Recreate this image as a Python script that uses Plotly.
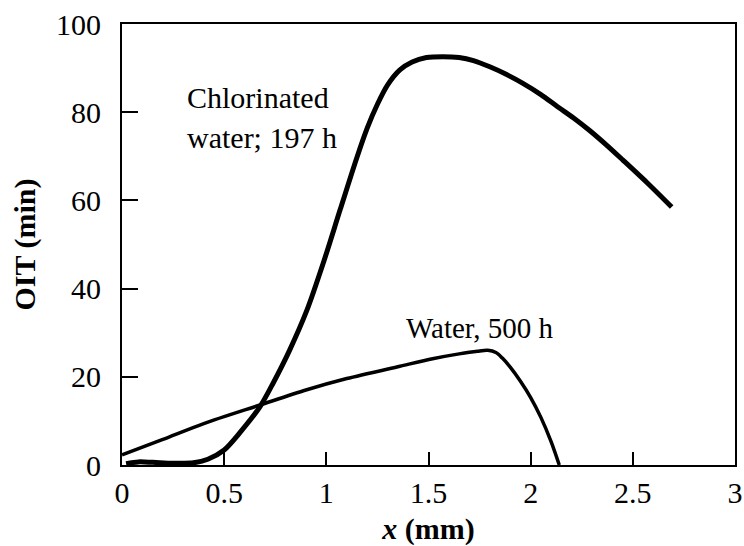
import plotly.graph_objects as go

# Chlorinated water, 197 h
chl_x = [0.02, 0.08, 0.15, 0.25, 0.35, 0.42, 0.5, 0.58, 0.675, 0.74, 0.82, 0.905, 0.985,
         1.067, 1.15, 1.2, 1.25, 1.3, 1.36, 1.42, 1.49, 1.57, 1.65, 1.72, 1.8, 1.88, 1.96,
         2.05, 2.13, 2.21, 2.29, 2.37, 2.45, 2.57, 2.69]
chl_y = [0.3, 0.7, 0.6, 0.4, 0.5, 1.3, 3.4, 7.5, 13.2, 18.6, 26.0, 35.1, 45.8,
         57.8, 69.8, 76.4, 81.8, 86.2, 89.6, 91.4, 92.4, 92.6, 92.4, 91.7, 90.3, 88.6, 86.6,
         84.0, 81.3, 78.7, 75.8, 72.6, 69.2, 64.0, 58.5]

# Water, 500 h
wat_x = [0.0, 0.2, 0.4, 0.675, 0.9, 1.1, 1.36, 1.52, 1.65, 1.74, 1.79, 1.83, 1.86, 1.90,
         1.95, 2.00, 2.05, 2.10, 2.14]
wat_y = [2.3, 5.8, 9.4, 13.6, 17.0, 19.6, 22.4, 24.1, 25.2, 25.8, 26.0, 25.5, 24.3, 22.2,
         19.0, 15.3, 10.8, 5.3, 0.0]

x_ticks = [0, 0.5, 1, 1.5, 2, 2.5, 3]
x_tick_labels = ["0", "0.5", "1", "1.5", "2", "2.5", "3"]
y_ticks = [0, 20, 40, 60, 80, 100]
y_tick_labels = ["0", "20", "40", "60", "80", "100"]

FONT = "Liberation Serif"

fig = go.Figure()
fig.add_trace(go.Scatter(x=chl_x, y=chl_y, mode="lines",
                         line=dict(color="black", width=5, shape="spline", smoothing=0.8),
                         showlegend=False, cliponaxis=False))
fig.add_trace(go.Scatter(x=wat_x, y=wat_y, mode="lines",
                         line=dict(color="black", width=3.5, shape="spline", smoothing=0.8),
                         showlegend=False, cliponaxis=False))

fig.add_annotation(x=0.31, y=83.3, text="Chlorinated", showarrow=False, xanchor="left", yanchor="middle",
                   font=dict(family=FONT, size=30, color="black"))
fig.add_annotation(x=0.31, y=74.2, text="water; 197 h", showarrow=False, xanchor="left", yanchor="middle",
                   font=dict(family=FONT, size=30, color="black"))
fig.add_annotation(x=1.38, y=31, text="Water, 500 h", showarrow=False, xanchor="left", yanchor="middle",
                   font=dict(family=FONT, size=29, color="black"))

fig.update_xaxes(range=[0, 3], tickvals=x_ticks, ticktext=x_tick_labels, ticks="inside", ticklen=13,
                 tickwidth=2, tickcolor="black", showline=True, linecolor="black", linewidth=2, mirror=True,
                 showgrid=False, zeroline=False,
                 tickfont=dict(family=FONT, size=30, color="black"),
                 title=dict(text="<b><i>x</i> (mm)</b>", font=dict(family=FONT, size=30, color="black"), standoff=16))
fig.update_yaxes(range=[0, 100], tickvals=y_ticks, ticktext=y_tick_labels, ticks="inside", ticklen=16,
                 tickwidth=2, tickcolor="black", showline=True, linecolor="black", linewidth=2, mirror=True,
                 showgrid=False, zeroline=False, ticklabelstandoff=13,
                 tickfont=dict(family=FONT, size=30, color="black"),
                 title=dict(text="<b>OIT (min)</b>", font=dict(family=FONT, size=30, color="black"), standoff=12))

fig.update_layout(width=744, height=546, margin=dict(l=122, r=9, t=24, b=81, autoexpand=False),
                  plot_bgcolor="white", paper_bgcolor="white", showlegend=False)

fig.write_html("out.html", config={"displayModeBar": False},
               post_script="document.body.style.margin='0';document.body.style.padding='0';")
